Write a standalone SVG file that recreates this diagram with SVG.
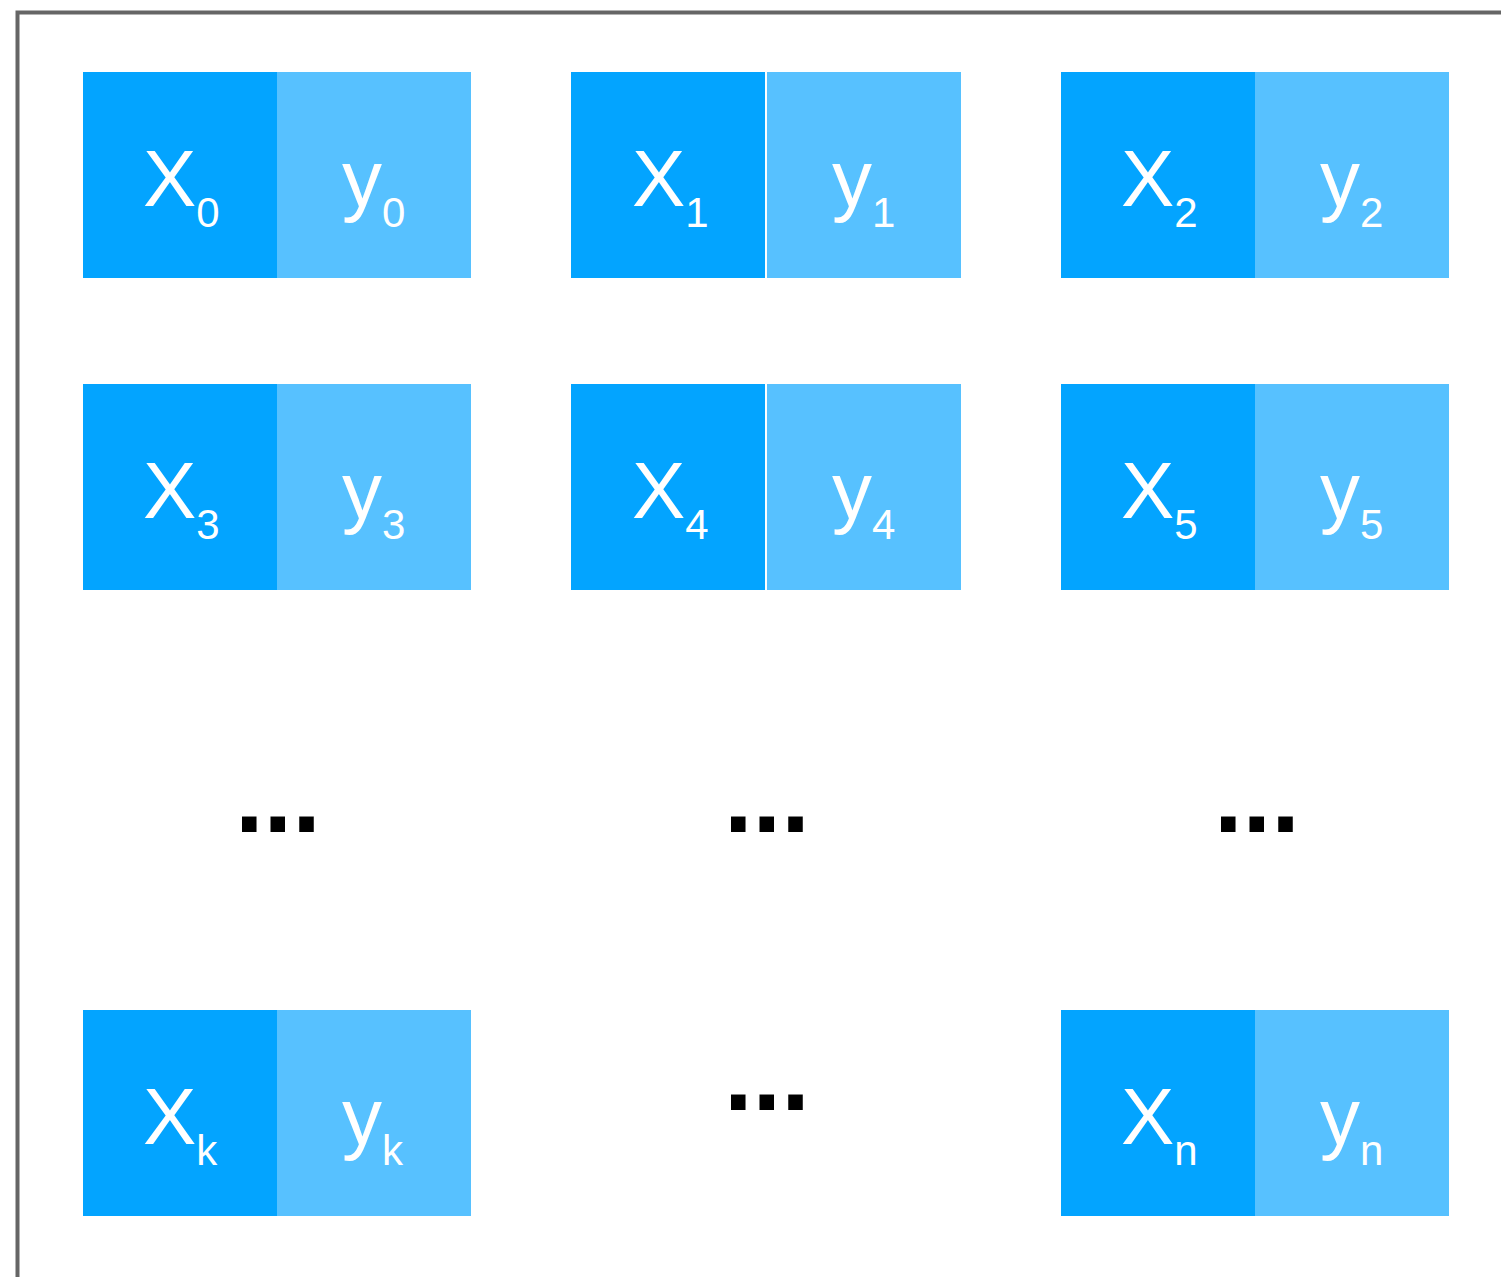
<svg xmlns="http://www.w3.org/2000/svg" width="1501" height="1277" viewBox="0 0 1501 1277">
<style>
.xb{fill:#03A4FF}
.yb{fill:#57C1FF}
.t{font-family:"Liberation Sans",Arial,sans-serif;fill:#fff;font-size:80px}
.s{font-size:42px}
.d{font-family:"Liberation Sans",Arial,sans-serif;font-weight:bold;font-size:103px;fill:#000}
</style>
<rect x="0" y="0" width="1501" height="1277" fill="#fff"/>
<path d="M17.5 1280 V12.5 H1505" fill="none" stroke="#666" stroke-width="4"/>
<g id="n0"><rect class="xb" x="83" y="72" width="194" height="206"/><rect class="yb" x="277" y="72" width="194" height="206"/>
<text class="t" x="143" y="206">X<tspan class="s" dy="21">0</tspan></text><text class="t" x="342" y="206">y<tspan class="s" dy="21">0</tspan></text></g>
<g id="n1"><rect class="xb" x="571" y="72" width="194" height="206"/><rect class="yb" x="767" y="72" width="194" height="206"/>
<text class="t" x="632" y="206">X<tspan class="s" dy="21">1</tspan></text><text class="t" x="832" y="206">y<tspan class="s" dy="21">1</tspan></text></g>
<g id="n2"><rect class="xb" x="1061" y="72" width="194" height="206"/><rect class="yb" x="1255" y="72" width="194" height="206"/>
<text class="t" x="1121" y="206">X<tspan class="s" dy="21">2</tspan></text><text class="t" x="1320" y="206">y<tspan class="s" dy="21">2</tspan></text></g>
<g id="n3"><rect class="xb" x="83" y="384" width="194" height="206"/><rect class="yb" x="277" y="384" width="194" height="206"/>
<text class="t" x="143" y="518">X<tspan class="s" dy="21">3</tspan></text><text class="t" x="342" y="518">y<tspan class="s" dy="21">3</tspan></text></g>
<g id="n4"><rect class="xb" x="571" y="384" width="194" height="206"/><rect class="yb" x="767" y="384" width="194" height="206"/>
<text class="t" x="632" y="518">X<tspan class="s" dy="21">4</tspan></text><text class="t" x="832" y="518">y<tspan class="s" dy="21">4</tspan></text></g>
<g id="n5"><rect class="xb" x="1061" y="384" width="194" height="206"/><rect class="yb" x="1255" y="384" width="194" height="206"/>
<text class="t" x="1121" y="518">X<tspan class="s" dy="21">5</tspan></text><text class="t" x="1320" y="518">y<tspan class="s" dy="21">5</tspan></text></g>
<g id="nk"><rect class="xb" x="83" y="1010" width="194" height="206"/><rect class="yb" x="277" y="1010" width="194" height="206"/>
<text class="t" x="143" y="1144">X<tspan class="s" dy="21">k</tspan></text><text class="t" x="342" y="1144">y<tspan class="s" dy="21">k</tspan></text></g>
<g id="nn"><rect class="xb" x="1061" y="1010" width="194" height="206"/><rect class="yb" x="1255" y="1010" width="194" height="206"/>
<text class="t" x="1121" y="1144">X<tspan class="s" dy="21">n</tspan></text><text class="t" x="1320" y="1144">y<tspan class="s" dy="21">n</tspan></text></g>
<g id="dots">
<text class="d" x="235" y="832">...</text>
<text class="d" x="724" y="832">...</text>
<text class="d" x="1214" y="832">...</text>
<text class="d" x="724" y="1110">...</text>
</g>
<g id="connectors"/>
</svg>
